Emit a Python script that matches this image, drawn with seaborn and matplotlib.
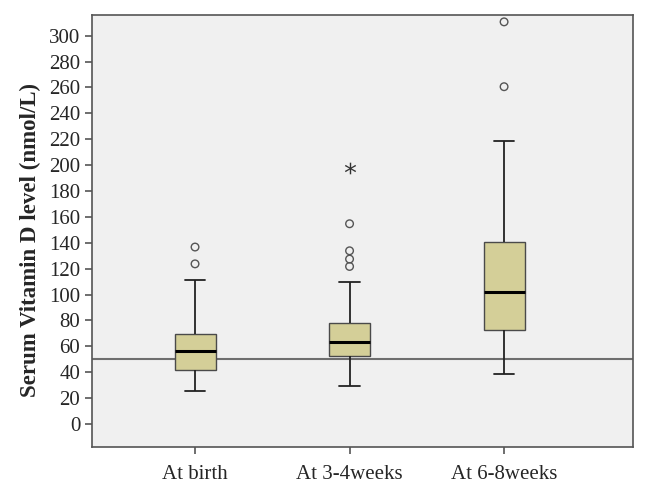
import pandas as pd
import seaborn as sns
import matplotlib.pyplot as plt
import numpy as np

groups = ["At birth", "At 3-4weeks", "At 6-8weeks"]
# five-number summaries
whisk_lo = [25.5, 29, 38.7]
q1 = [41.8, 52.6, 72.5]
median = [56.7, 63.2, 102.3]
q3 = [69.6, 77.9, 140.5]
whisk_hi = [111.6, 109.6, 218.6]
# outliers (circles) and extremes (stars)
out_group = ["At birth", "At birth", "At 3-4weeks", "At 3-4weeks", "At 3-4weeks", "At 3-4weeks",
             "At 6-8weeks", "At 6-8weeks"]
out_value = [136.7, 123.7, 154.7, 133.8, 127.4, 121.7, 310.7, 260.6]
ext_group = ["At 3-4weeks"]
ext_value = [198]
ref_level = 50

sns.set_style("ticks")
plt.rcParams["font.family"] = ["Liberation Serif", "DejaVu Serif"]

# long table of the summary points per group
rows = []
for i, g in enumerate(groups):
    for v in [whisk_lo[i], q1[i], median[i], q3[i], whisk_hi[i]]:
        rows.append({"group": g, "value": v})
df = pd.DataFrame(rows)
out_df = pd.DataFrame({"group": out_group, "value": out_value})
ext_df = pd.DataFrame({"group": ext_group, "value": ext_value})

fig = plt.figure(figsize=(6.5, 4.92), dpi=100)
ax = fig.add_axes([0.1415, 0.0915, 0.8325, 0.878])
ax.set_facecolor("#f0f0f0")

ax.axhline(ref_level, color="#6e6e6e", lw=1.5, zorder=1)

sns.boxplot(data=df, x="group", y="value", order=groups, whis=(0, 100), width=0.265,
            color="#d4cf98", saturation=1, fliersize=0, ax=ax, zorder=3,
            boxprops=dict(edgecolor="#4a4a4a", linewidth=1),
            medianprops=dict(color="black", linewidth=2.2),
            whiskerprops=dict(color="#222222", linewidth=1.3),
            capprops=dict(color="#222222", linewidth=1.3))

sns.scatterplot(data=out_df, x="group", y="value", marker="o", s=30, facecolor="none",
                edgecolor="#555555", linewidth=1, ax=ax, zorder=4)
sns.scatterplot(data=ext_df, x="group", y="value", marker="$*$", s=70, color="#333333",
                linewidth=0, ax=ax, zorder=4)

ax.set_xlim(-0.667, 2.835)
ax.set_ylim(-17.8, 316)
ax.set_yticks(np.arange(0, 301, 20))
ax.set_xlabel("")
ax.set_ylabel("Serum Vitamin D level (nmol/L)", fontsize=16.5, fontweight="bold", labelpad=6, y=0.479)
ax.tick_params(axis="both", labelsize=15, color="#555555", length=5, width=1.2)
ax.tick_params(axis="x", pad=8)
for s in ax.spines.values():
    s.set_color("#555555")
    s.set_linewidth(1.2)

fig.savefig("out.png", dpi=100)
